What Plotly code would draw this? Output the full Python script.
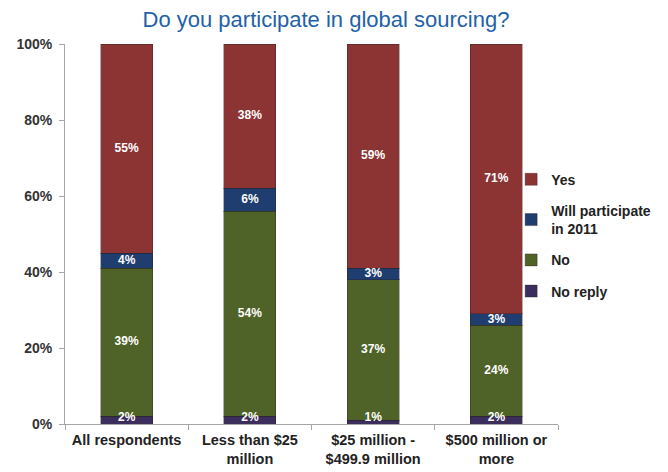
import plotly.graph_objects as go

categories = ["All respondents", "Less than $25<br>million", "$25 million -<br>$499.9 million", "$500 million or<br>more"]
no_reply = [2, 2, 1, 2]
no = [39, 54, 37, 24]
will_participate = [4, 6, 3, 3]
yes = [55, 38, 59, 71]

# (legend name, values, colour, legend rank)
series = [
    ("No reply", no_reply, "#3B2D5C", 4),
    ("No", no, "#4F6228", 3),
    ("Will participate<br>in 2011", will_participate, "#1F3D6E", 2),
    ("Yes", yes, "#8C3333", 1),
]

LABEL_FONT = dict(family="Liberation Sans", size=12, color="white", weight="bold")

fig = go.Figure()
base = [0.0] * len(categories)
label_x, label_y, label_t, label_pos = [], [], [], []
for name, vals, color, rank in series:
    fracs = [v / 100 for v in vals]
    fig.add_trace(go.Bar(
        x=categories,
        y=fracs,
        name=name,
        legendgroup=name,
        legendrank=rank,
        marker=dict(color=color, line=dict(color="rgba(40,30,30,0.35)", width=1)),
        hoverinfo="name+y",
    ))
    # value labels sit in the middle of each segment; thin segments get the label just above their base
    for i, (c, f, v) in enumerate(zip(categories, fracs, vals)):
        label_x.append(c)
        label_t.append(f"{v}%")
        if v < 3:
            label_y.append(base[i])
            label_pos.append("top center")
        else:
            label_y.append(base[i] + f / 2)
            label_pos.append("middle center")
        base[i] += f

fig.add_trace(go.Scatter(
    x=label_x,
    y=label_y,
    mode="text",
    text=label_t,
    textposition=label_pos,
    textfont=LABEL_FONT,
    showlegend=False,
    hoverinfo="skip",
    cliponaxis=False,
))

fig.update_layout(
    barmode="stack",
    bargap=0.58,
    width=668,
    height=472,
    margin=dict(l=65, r=104, t=44, b=48),
    paper_bgcolor="white",
    plot_bgcolor="white",
    title=dict(
        text="Do you participate in global sourcing?",
        x=0.488, xanchor="center", y=0.975, yanchor="top",
        font=dict(family="Liberation Sans", size=22, color="#1F62A8"),
    ),
    legend=dict(
        x=0.905, xanchor="left", y=0.685, yanchor="top",
        traceorder="grouped",
        tracegroupgap=10,
        font=dict(family="Liberation Sans", size=14, color="#222222", weight="bold"),
        bgcolor="rgba(0,0,0,0)",
        itemwidth=30,
    ),
    showlegend=True,
)

fig.update_yaxes(
    range=[0, 1],
    tickvals=[0, 0.2, 0.4, 0.6, 0.8, 1.0],
    tickformat=".0%",
    showgrid=False,
    zeroline=False,
    showline=True,
    linecolor="#A6A6A6",
    linewidth=1,
    ticks="outside",
    ticklen=5,
    tickcolor="#A6A6A6",
    ticklabelstandoff=4,
    tickfont=dict(family="Liberation Sans", size=14, color="#333333", weight="bold"),
)
fig.update_xaxes(
    automargin=False,
    showgrid=False,
    showline=True,
    linecolor="#A6A6A6",
    linewidth=1,
    ticks="outside",
    ticklen=5,
    tickcolor="#A6A6A6",
    tickson="boundaries",
    ticklabelstandoff=3,
    tickfont=dict(family="Liberation Sans", size=14.5, color="#222222", weight="bold"),
)

fig.write_html("out.html")
